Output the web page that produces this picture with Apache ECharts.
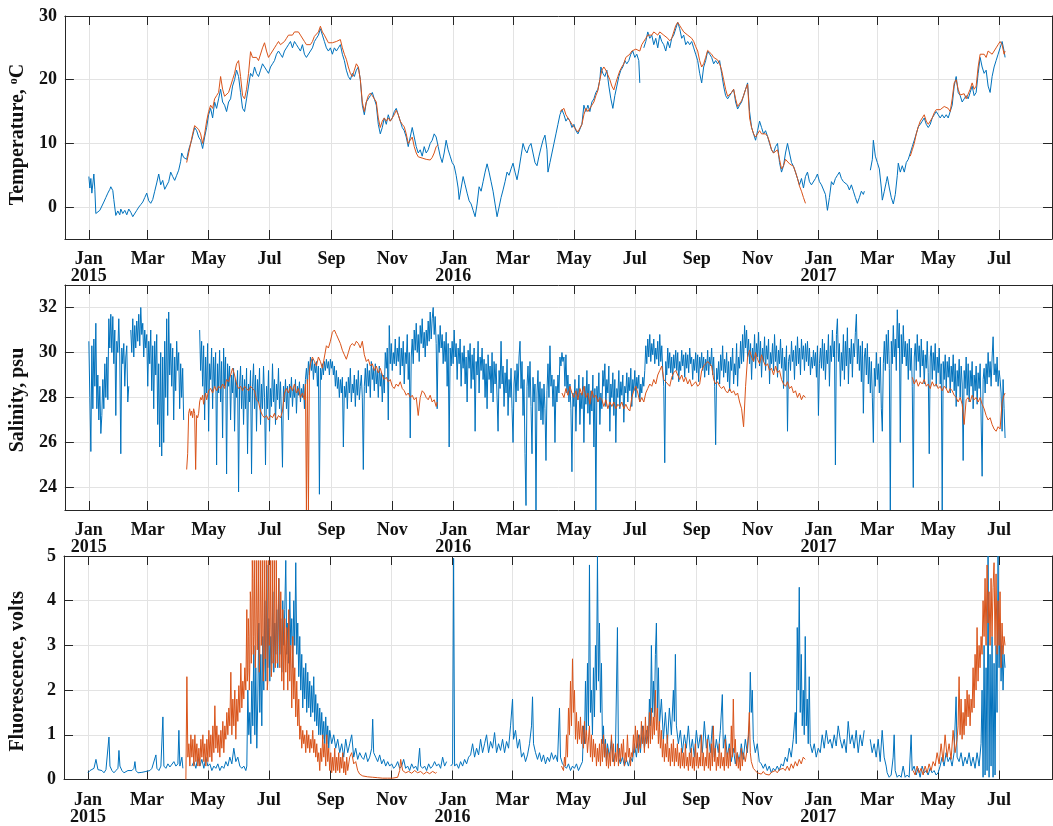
<!DOCTYPE html>
<html><head><meta charset="utf-8">
<script src="https://cdn.jsdelivr.net/npm/echarts@6/dist/echarts.min.js"></script>
<style>html,body{margin:0;padding:0;background:#fff}#c{width:1053px;height:826px}</style>
</head><body><div id="c"></div>
<script>
// day 0 = 1 Jan 2015
const monthTicks = [0,59,120,181,243,304,365,425,486,547,609,670,731,790,851,912];
const monthLabels = ['Jan\n2015','Mar','May','Jul','Sep','Nov','Jan\n2016','Mar','May','Jul','Sep','Nov','Jan\n2017','Mar','May','Jul'];
const tempTicks = [0,10,20,30];
const salTicks = [24,26,28,30,32];
const fluTicks = [0,1,2,3,4,5];

const tempBlue = [[0,4.8],[1,3.0],[2,4.5],[3,2.2],[5,5.2],[6,2.8],[7,-1.0],[9,-0.8],[11,-0.5],[13,-0.2],[15,0.8],[17,1.5],[19,2.2],[21,2.8],[22,3.2],[24,2.6],[25,1.2],[27,-1.3],[29,-0.6],[31,-1.2],[32,-0.3],[34,-1.0],[36,-0.5],[38,-1.2],[40,-0.3],[42,-0.8],[44,-1.5],[46,-1.2],[48,-0.5],[50,0.0],[52,0.4],[54,0.8],[56,1.5],[58,2.2],[60,1.0],[62,0.6],[64,1.2],[66,2.5],[68,3.8],[70,5.2],[72,3.5],[74,4.2],[76,2.8],[78,3.0],[80,4.0],[82,5.5],[84,4.8],[86,4.2],[88,5.0],[90,5.8],[92,7.2],[93,8.5],[95,7.8],
[98,7.5],[100,9],[103,10.5],[106,12.5],[108,12],[110,11],[112,10.5],[114,9.2],[116,11],[118,12.5],[120,14.5],[122,15.5],[124,14],[126,16.5],[128,15.5],[130,17],[132,18.5],[134,16.5],[136,16],[138,15],[140,16.5],[142,17],[144,19],[146,20],[148,21.5],[150,20.5],[152,18],[154,15.5],[156,15],[158,17],[160,19],[162,21],[164,20.5],[166,22],[168,21],[170,20.5],[172,21.5],[174,22.5],[176,22],[178,21.5],[180,21],[182,22],[184,22.5],[186,23],[188,24],[190,24.5],[192,24],[194,23.5],[196,24.5],[198,25],[200,25.5],[202,26],[204,25],[206,26],[208,25.5],[210,25],[212,24.5],[214,25.5],[216,24],[218,23.5],[220,23.5],[222,24.5],[224,25],[226,26],[228,26.5],[230,27],[232,28],[234,27],[236,26],[238,25],[240,24.5],[242,25],[244,24],[246,25],[248,24.5],[250,25],[252,25.5],[254,24],[256,23],[258,21.5],[260,20.5],[262,20],[264,21],[266,20.5],[268,21.5],[270,22],[272,20],[274,16],[276,14.5],[278,16.5],[280,17],[282,17.5],[284,18],[286,17],[288,16],[290,13],[292,11.5],[294,12.5],[296,14],[298,13],[300,14.5],[302,13.5],[304,14],[306,15],[308,15.5],[310,14.5],[312,13.5],[314,12.5],[316,12],[318,11],[320,9.5],[322,11],[324,12.5],[326,11],[328,9.5],[330,8.5],[332,9],[334,8],[336,9.5],[338,8.5],[340,9],[342,10],[344,10.5],[346,11.5],[348,11],[350,9.5],[352,8],[354,7],[356,8.5],[358,10.5],[360,9],[362,8],[364,7],[366,6.5],[368,5],[370,3],[371,1.2],[373,3],[375,4.8],[377,3.5],[379,2.2],[381,1],[383,0.5],[385,-0.5],[387,-1.5],[389,0.5],[391,3.2],[393,2.5],[395,4],[397,5.5],[399,6.8],[401,5.5],[403,4],[405,2.5],[407,0.5],[409,-1.5],[411,0],[413,1.5],[415,2.7],[417,4],[419,5.5],[421,5],[423,6],[425,6.9],[427,5.5],[429,4.3],[431,6],[433,8],[435,10],[437,9],[439,8.5],[441,9.5],[443,10],[445,8.5],[447,7],[449,6.5],[451,8],[453,9.3],[455,10.5],[457,11.3],[459,9],[460,5.5],[462,7],[464,8.5],[466,10],[468,11.5],[470,13],[472,14.5],[474,15.3],[476,14.5],[478,13.5],[480,14],[482,13.5],[484,12.5],[486,13],[488,12],[490,11.5],[492,11.2],[494,13],[496,16],[498,15],[500,16],[502,15],[504,16.5],[506,17],[508,18],[510,18.5],[512,20],[513,22],[515,21],[517,20.5],[519,21.5],[521,19],[523,17],[525,15.5],[527,17.5],[529,19],[531,20.5],[533,21.5],[535,22],[537,23],[539,22.5],[541,23],[543,24],[545,24.5],[547,23.5],[549,24],[551,23],[552,19.5],[553,null],
[556,25],[558,26],[560,27.5],[562,26.5],[564,27],[566,25.5],[568,26.5],[570,25],[572,27],[574,26],[576,25.5],[578,24.5],[580,26],[582,25],[584,26.5],[586,27],[588,28],[590,29],[592,28],[594,26.5],[596,27],[598,25.5],[600,26],[602,25.5],[604,26],[606,25],[608,24],[610,23],[612,21],[614,19.5],[616,22],[618,23],[620,24.5],[622,24],[624,23.5],[626,22.5],[628,23],[630,22.5],[632,23],[634,21],[636,19],[638,17.5],[640,17],[642,17.5],[644,18],[646,18.5],[648,16.5],[650,15.4],[652,16],[654,16.5],[656,17.5],[658,18.5],[660,19.5],[662,15],[664,12.5],[666,11.5],[668,10.5],[670,12],[672,13.5],[674,12.5],[676,11.5],[678,12],[680,11.1],[682,10],[684,9],[686,8.5],[688,9.5],[690,10],[692,7],[694,5.5],[696,6.5],[698,8.5],[700,10],[702,8.5],[704,7],[706,6.4],[708,5.5],[710,4.5],[712,3.5],[714,4.5],[716,3],[718,4.8],[720,5.5],[722,4],[724,3.5],[726,3.3],[728,4.5],[730,5.2],[732,4],[734,3.5],[736,3.3],[738,2],[740,-0.5],[742,1.5],[744,4],[746,3.5],[748,4.5],[750,5],[752,5.5],[754,4.5],[756,4],[758,4],[760,3.5],[762,2.7],[764,3.5],[766,2.5],[768,1.5],[770,0.6],[772,1.5],[774,2.5],[776,2],[777,2.5],[778,null],
[783,5.8],[785,7.5],[786,10.5],[788,8],[790,7],[792,6],[794,3],[795,1.1],[797,2.5],[799,4],[800,4.8],[802,3],[804,1.5],[806,0.5],[808,2],[810,5],[811,6.9],[813,5.5],[815,6.5],[817,5.5],[819,7],[821,7.5],[823,8.5],[825,9.5],[827,10.5],[829,11.5],[831,12.6],[833,13],[835,13.5],[837,14],[839,13],[841,12.5],[843,13],[845,14],[847,14.5],[849,15],[851,14.5],[853,14],[855,14.5],[857,14],[859,14.5],[861,14],[863,14],[865,16],[867,19],[869,20.5],[871,18],[873,17.5],[875,16.5],[877,17],[879,17.5],[881,17],[883,18],[885,19],[887,17.5],[889,18],[891,21],[893,23.5],[895,22],[897,21],[899,21.5],[901,19],[903,18],[905,20.5],[907,22],[909,23],[911,24],[913,25],[915,26],[917,24.5],[918,23.5]];

const tempOrange = [[98,7],[100,8.5],[102,10],[104,11.5],[106,12.8],[108,13],[110,12.2],[112,11.5],[114,10],[116,11.5],[118,13.5],[120,15],[122,16],[124,15.5],[126,17],[128,17.5],[130,18],[132,20.5],[134,18.5],[136,17.4],[138,17.5],[140,18],[142,18],[144,20],[146,21],[148,22.5],[150,23],[152,20.5],[154,17.5],[156,17],[158,18.5],[160,21],[162,24.4],[164,23.5],[166,23.3],[168,23.5],[170,23],[172,23.3],[174,25],[176,25.8],[178,24.5],[180,23.5],[182,24],[184,24.5],[186,25],[188,25.5],[190,26],[192,25.5],[194,25.3],[196,26],[198,26.5],[200,27],[202,27.3],[204,27],[206,27.5],[208,27.8],[210,27.5],[212,27],[214,26.8],[216,26],[218,25.5],[220,25.3],[222,25.5],[224,26],[226,26.8],[228,27],[230,27.5],[232,28.4],[234,27.5],[236,27],[238,26.8],[240,25.8],[242,25.5],[244,25.8],[246,25.5],[248,26],[250,26],[252,26.3],[254,25],[256,24],[258,23.2],[260,22],[262,21],[264,20.5],[266,21.5],[268,22.5],[270,22],[272,20],[274,16.5],[276,15],[278,16.5],[280,17.5],[282,17.9],[284,17.5],[286,17],[288,16.5],[290,14],[292,12.5],[294,13.5],[296,14],[298,13.5],[300,14],[302,13.5],[304,14],[306,14.5],[308,15.2],[310,14.5],[312,13.5],[314,13],[316,12.6],[318,11.5],[320,10],[322,10.5],[324,11],[326,9.5],[328,8.5],[330,7.9],[332,8],[334,7.7],[336,7.5],[338,7.5],[340,7.4],[342,7.4],[344,7.8],[346,8.5],[348,9.5],[350,9.8],[351,null],
[472,15],[474,15.3],[476,15.5],[478,14.5],[480,14],[482,13.5],[484,13],[486,12.6],[488,12.2],[490,11.8],[492,11.7],[494,13],[496,14.5],[498,15.5],[500,15],[502,15.3],[504,16],[506,16.5],[508,17.5],[510,18.3],[512,20],[514,21.5],[516,22],[518,21.5],[520,21.4],[522,20],[524,19],[526,18.4],[528,19.5],[530,20.5],[532,21.4],[534,22],[536,22.5],[538,23.5],[540,23.5],[542,24],[544,24.5],[546,24.5],[548,24.8],[550,25],[552,24.5],[554,25.5],[556,25.7],[558,26.5],[560,27],[562,27.1],[564,27],[566,27.5],[568,27.2],[570,27],[572,27.5],[574,27.2],[576,27],[578,26.8],[580,26.5],[582,26.1],[584,26.5],[586,27.5],[588,28.5],[590,29],[592,28.5],[594,28],[596,27.5],[598,27.2],[600,27],[602,26.8],[604,26.5],[606,26],[608,25.2],[610,24.5],[612,23],[614,22],[616,22.5],[618,23.5],[620,24.6],[622,24.5],[624,24],[626,23.5],[628,23.2],[630,23.1],[632,22.5],[634,21.5],[636,20],[638,18.5],[640,17.4],[642,17.5],[644,18],[646,18.5],[648,17],[650,15.8],[652,16],[654,16.7],[656,17.5],[658,18.5],[660,19.3],[662,14],[664,12.5],[666,11.5],[668,11],[670,11.5],[672,12],[674,11.5],[676,11.5],[678,11.5],[680,11.1],[682,10.2],[684,9],[686,8.5],[688,8.8],[690,9],[692,7.5],[694,6],[696,6.5],[698,7.5],[700,7.2],[702,6.8],[704,6.5],[706,6.4],[708,5.5],[710,4.5],[712,3.3],[714,2.5],[716,1.5],[718,0.6],[719,null],
[823,8],[825,9],[827,10],[829,11.5],[831,12.6],[833,13.5],[835,14],[837,14.5],[839,13.5],[841,13],[843,12.8],[845,14],[847,14.8],[849,15.3],[851,15.5],[853,15.3],[855,15.5],[857,15.8],[859,16],[861,15.5],[863,15],[865,17],[867,19.5],[869,20],[871,18.5],[873,17.6],[875,17.5],[877,17.8],[879,17],[881,17.3],[883,18.5],[885,19.5],[887,18.5],[889,19],[891,22],[893,24],[895,24.2],[897,24],[899,23.5],[901,24.5],[903,24.5],[905,24],[907,24.5],[909,25],[911,25.5],[913,26],[915,25.5],[917,24],[918,24.5]];

const salBlue = [[0,30.5],[1,28],[2,25.6],[3,30.3],[4,27.5],[5,30.6],[6,28.5],[7,31.3],[8,27.5],[9,29],[10,27],[11,28.5],[12,26.4],[13,27.2],[14,28.8],[15,27.5],[16,29.5],[17,28],[18,29.8],[19,27.9],[20,31.5],[21,30.2],[22,31.7],[23,30],[24,31.6],[25,29.5],[26,31],[27,27.2],[28,30.5],[29,30],[30,31.5],[31,29.8],[32,25.5],[33,30.2],[34,29.5],[35,30.4],[36,28.5],[37,29.8],[38,30.3],[39,27.8],[40,28.5],[41,null],
[42,31],[43,30],[44,31.5],[45,29.8],[46,31.2],[47,30.2],[48,31.4],[49,30.5],[50,31.7],[51,30.3],[52,32],[53,30.8],[54,31.3],[55,29.8],[56,31],[57,30.2],[58,30.8],[59,28.5],[60,30.5],[61,29.5],[62,31],[63,28.3],[64,30.3],[65,27.5],[66,30.5],[67,29],[68,30.8],[69,26.8],[70,29.5],[71,25.8],[72,30],[73,25.4],[74,29.8],[75,26],[76,30.5],[77,28],[78,31.5],[79,27.2],[80,31.8],[81,29],[82,30.4],[83,28.5],[84,30.2],[85,27],[86,29.8],[87,28.3],[88,30.5],[89,29.2],[90,30],[91,27.5],[92,29.5],[93,28],[94,29.3],[95,27],[96,null],
[111,31],[112,29.2],[113,30.5],[114,28.5],[115,30.3],[116,27],[117,29.8],[118,28.2],[119,30.4],[120,26.5],[121,29.5],[122,28.8],[123,30.2],[124,27.5],[125,29.8],[126,28.5],[127,30],[128,25],[129,29.5],[130,28.2],[131,30.1],[132,27.8],[133,29.6],[134,26.2],[135,30.2],[136,28.5],[137,29.8],[138,24.6],[139,29.5],[140,28.5],[141,29.4],[142,27],[143,29],[144,28.2],[145,29.3],[146,26.5],[147,28.8],[148,28],[149,29.2],[150,23.8],[151,28.5],[152,29.4],[153,27.5],[154,29],[155,26.8],[156,28.8],[157,27.5],[158,29.3],[159,25.5],[160,28.6],[161,27.8],[162,29.2],[163,24.6],[164,28.5],[165,29.5],[166,27.5],[167,29],[168,26.5],[169,28.8],[170,27.8],[171,29.3],[172,26.8],[173,28.6],[174,27.5],[175,29.4],[176,28],[177,25],[178,28.5],[179,27.5],[180,29.2],[181,26.5],[182,28.4],[183,27.6],[184,29.5],[185,27.8],[186,28.8],[187,26.8],[188,28.6],[189,27.9],[190,29.3],[191,27.5],[192,28.7],[193,27.2],[194,24.9],[195,28.5],[196,27.8],[197,28.8],[198,27.5],[199,28.5],[200,27],[201,28.6],[202,28],[203,28.9],[204,27.6],[205,28.4],[206,28],[207,28.8],[208,27.3],[209,28.5],[210,28.1],[211,28.7],[212,27.8],[213,28.4],[214,28],[215,28.6],[216,27.5],[217,28.8],[218,29.3],[219,28.6],[220,29.6],[221,29],[222,29.8],[223,29.2],[224,29.7],[225,28.8],[226,29.5],[227,29.1],[228,29.6],[229,28.5],[230,29.4],[231,23.7],[232,29.3],[233,28.8],[234,29.5],[235,29],[236,29.6],[237,29.2],[238,29.7],[239,29.3],[240,29.6],[241,29],[242,29.7],[243,29.3],[244,29.6],[245,29],[246,29.4],[247,28.5],[248,29.2],[249,28.4],[250,28.9],[251,28],[252,28.8],[253,28.2],[254,28.9],[255,25.8],[256,28.5],[257,28],[258,28.7],[259,27.5],[260,28.9],[261,28.2],[262,29.3],[263,27.8],[264,28.6],[265,28.2],[266,29],[267,27.6],[268,28.8],[269,28.1],[270,29.2],[271,27.9],[272,28.5],
[273,29],[274,28],[275,24.8],[276,28.5],[277,29.3],[278,28.2],[279,29.5],[280,28.5],[281,29.2],[282,28],[283,29.6],[284,28.8],[285,29.3],[286,28.3],[287,29.5],[288,28.6],[289,29.2],[290,28],[291,29.4],[292,28.5],[293,29.1],[294,27.8],[295,29],[296,28.2],[297,30],[298,29.3],[299,30.2],[300,27],[301,31.2],[302,29.5],[303,30.4],[304,29.2],[305,30],[306,29.5],[307,30.6],[308,29.4],[309,30.2],[310,29.6],[311,30.7],[312,29],[313,30.2],[314,29.4],[315,30.5],[316,28.6],[317,30],[318,29.5],[319,30.8],[320,28.8],[321,30],[322,26.2],[323,29.8],[324,30.6],[325,29.5],[326,31],[327,30.1],[328,31.3],[329,30],[330,30.8],[331,29.6],[332,31.2],[333,30.4],[334,31.5],[335,30.2],[336,30.9],[337,29.8],[338,31],[339,30.3],[340,31.4],[341,30.5],[342,31.8],[343,30.6],[344,31.5],[345,32],[346,30.8],[347,31.6],[348,30.4],[349,27.5],[350,30.8],[351,30],[352,31.2],[353,30.2],[354,30.8],[355,29.5],[356,30.5],[357,29.6],[358,30.9],[359,28.5],[360,30.4],[361,25.8],[362,30.2],
[363,29.4],[364,30.5],[365,29.5],[366,31],[367,29.8],[368,30.4],[369,28.8],[370,30.2],[371,29.5],[372,30.6],[373,28.5],[374,30],[375,29.3],[376,30.3],[377,28.6],[378,29.8],[379,27.8],[380,30.1],[381,29.3],[382,30.4],[383,28.4],[384,29.9],[385,28.8],[386,30.2],[387,26.5],[388,29.6],[389,29],[390,30.5],[391,28.2],[392,29.8],[393,29.2],[394,30.2],[395,28.8],[396,29.7],[397,28],[398,29.5],[399,27.5],[400,29.9],[401,28.8],[402,29.4],[403,28.2],[404,30],[405,27.8],[406,29.6],[407,28.6],[408,29.5],[409,28],[410,26.5],[411,29.2],[412,28.4],[413,30.5],[414,28.6],[415,29.4],[416,27.6],[417,29.1],[418,28.2],[419,29.7],[420,27.2],[421,28.8],[422,28],[423,29.3],[424,27.5],[425,26],[426,28.6],[427,29.2],[428,27.8],[429,29.5],[430,28.3],[431,29.8],[432,30.5],[433,28.4],[434,29.6],[435,27.2],[436,28.8],[437,25.5],[438,23.2],[439,28.5],[440,29.4],[441,28],[442,29.6],[443,27.6],[444,25.5],[445,28.9],[446,27.8],[447,28.6],[448,23],[449,28.2],[450,29.2],[451,27.4],[452,28.7],[453,27],[454,28.4],[455,26.8],[456,28.6],[457,27.5],[458,25.2],[459,28.3],[460,29.5],[461,28],[462,30.3],[463,28.5],[464,29],[465,27.6],[466,28.8],[467,26],[468,28.5],[469,27.8],[470,29],[471,28.2],[472,29.8],[473,29.4],[474,30],[475,29.6],
[476,29.8],[477,28.5],[478,29.9],[479,28.2],[480,29],[481,27.8],[482,28.6],[483,27.5],[484,24.7],[485,28.2],[486,27.6],[487,28.8],[488,26.5],[489,28.4],[490,27.9],[491,29],[492,26.8],[493,28.2],[494,27.5],[495,28.9],[496,26],[497,28.5],[498,27.7],[499,29.2],[500,27.3],[501,28.6],[502,26.8],[503,28.3],[504,27.4],[505,29],[506,25.8],[507,28.4],[508,23],[509,28.5],[510,27.8],[511,29.1],[512,26.8],[513,28.2],[514,27.5],[515,29.2],[516,28.5],[517,29.5],[518,27.6],[519,28.8],[520,28.2],[521,29.4],[522,26.5],[523,28.6],[524,28],[525,29.1],[526,27.2],[527,28.8],[528,26],[529,28.4],[530,28],[531,29.2],[532,27.5],[533,28.7],[534,28.1],[535,29],[536,26.9],[537,28.5],[538,28.2],[539,29.1],[540,27.8],[541,28.9],[542,28.3],[543,29.3],[544,27.6],[545,28.8],
[546,28.3],[547,29.2],[548,28],[549,28.9],[550,28.4],[551,29],[552,27.8],[553,28.6],[554,28.2],[555,28.9],[556,28.5],[557,29.2],[558,30.3],[559,29.5],[560,30.6],[561,29.8],[562,30.8],[563,29.6],[564,30.4],[565,29.9],[566,30.6],[567,29.5],[568,30.2],[569,29.7],[570,30.5],[571,29.4],[572,30.8],[573,29.6],[574,30.3],[575,29.2],[576,28.5],[577,25.1],[578,29.6],[579,29],[580,30.2],[581,29.3],[582,30],[583,29.1],[584,29.8],[585,28.8],[586,29.9],[587,29.3],[588,30.1],[589,29.2],[590,30],[591,28.7],[592,29.6],[593,29.2],[594,30.1],[595,29.4],[596,29.9],[597,28.9],[598,30],[599,29.3],[600,29.9],[601,29.1],[602,30.2],[603,29.5],[604,29.8],[605,28.8],[606,29.7],[607,29.2],[608,30],[609,29.1],[610,29.9],[611,28.7],[612,29.8],[613,29.3],[614,30],[615,29.2],[616,29.8],[617,28.9],[618,29.7],[619,29.2],[620,30.1],[621,29],[622,29.8],
[623,29.4],[624,30.2],[625,29],[626,29.8],[627,28.5],[628,25.9],[629,29.3],[630,28.8],[631,29.6],[632,28.6],[633,29.9],[634,29.2],[635,30.3],[636,28.9],[637,29.7],[638,29.1],[639,30],[640,28.7],[641,29.6],[642,28.3],[643,29.8],[644,29.2],[645,30.2],[646,28.6],[647,29.5],[648,29],[649,30.4],[650,28.5],[651,29.8],[652,29.3],[653,30.5],[654,29.5],[655,30.8],[656,29.6],[657,31.2],[658,30.2],[659,31],[660,29.8],[661,30.6],[662,29.5],[663,30.4],[664,28.8],[665,30.2],[666,29.6],[667,30.8],[668,29.3],[669,30.4],[670,29.8],[671,30.9],[672,29.4],[673,30.5],[674,28.9],[675,30.2],[676,29.6],[677,30.7],[678,29.2],[679,30.3],[680,29.7],[681,30.6],[682,28.6],[683,30],[684,29.5],[685,30.4],[686,29.2],[687,30.8],[688,29.6],[689,30.3],[690,28.9],[691,30.1],[692,29.5],[693,30.6],[694,29.3],[695,30.2],[696,28.4],[697,29.8],[698,29.2],[699,30.3],[700,26.5],[701,29.6],[702,29.9],[703,29.2],[704,30.5],[705,29.6],[706,30.1],[707,28.8],[708,30.3],[709,29.4],[710,30.7],[711,29.5],[712,30.2],[713,29],[714,30.6],[715,29.7],[716,30.3],[717,29.2],[718,30.4],[719,29.6],[720,30.5],[721,29.4],[722,30.2],[723,29],[724,29.8],[725,29.3],[726,30.1],[727,29.4],[728,30],[729,28.9],[730,30.3],
[731,27.2],[732,29.5],[733,30.2],[734,29.3],[735,30.6],[736,29.2],[737,30.4],[738,28.8],[739,30.1],[740,29.5],[741,30.8],[742,28.5],[743,30.3],[744,29.6],[745,31],[746,29.8],[747,30.5],[748,25],[749,30.8],[750,31.5],[751,29.6],[752,30.4],[753,28.5],[754,30],[755,29.2],[756,30.8],[757,28.8],[758,30.5],[759,29.4],[760,31.1],[761,28.6],[762,30.2],[763,29.5],[764,30.6],[765,28.9],[766,30.4],[767,29.8],[768,30.9],[769,31.7],[770,29.5],[771,30.6],[772,29.2],[773,30.3],[774,28.7],[775,30.5],[776,27.3],[777,29.8],[778,30.2],[779,29],[780,30.4],[781,28.6],[782,29.8],[783,28.2],[784,29.6],[785,28],[786,26],[787,29.3],[788,28.5],[789,30],[790,28.8],[791,29.5],[792,28.2],[793,29.8],[794,27.5],[795,26.5],[796,29.5],[797,30.5],[798,29.2],[799,30.8],[800,29.5],
[801,31],[802,29.3],[803,23],[804,30.5],[805,29.5],[806,31.2],[807,29.8],[808,30.6],[809,29.2],[810,31.9],[811,30.2],[812,31.3],[813,26],[814,30.8],[815,29.5],[816,31.2],[817,29.8],[818,30.5],[819,29.4],[820,30.4],[821,28.8],[822,30.6],[823,29.2],[824,30.2],[825,28.5],[826,24],[827,29.8],[828,30.4],[829,29.2],[830,30.8],[831,29.6],[832,30.3],[833,28.9],[834,30.6],[835,29.4],[836,30.1],[837,28.6],[838,29.9],[839,29.3],[840,30.5],[841,29.1],[842,25.5],[843,29.8],[844,30.3],[845,28.8],[846,30],[847,29.2],[848,30.4],[849,28.5],[850,29.8],[851,29.1],[852,30.2],[853,28.6],[854,29.5],[855,23],[856,29.6],[857,28.8],[858,29.9],[859,28.4],[860,29.6],
[861,28.9],[862,29.8],[863,28.2],[864,29.4],[865,28.7],[866,29.9],[867,28.3],[868,29.5],[869,27.6],[870,29.2],[871,28.5],[872,29.7],[873,28],[874,29.4],[875,28.6],[876,25.2],[877,29.2],[878,28.4],[879,29.8],[880,28.1],[881,29.5],[882,27.8],[883,29.2],[884,28.5],[885,29.6],[886,27.5],[887,29],[888,28.3],[889,29.4],[890,27.7],[891,29.1],[892,28.4],[893,29.5],[894,27],[895,24.5],[896,28.8],[897,29.3],[898,28.2],[899,29.5],[900,28.6],[901,30],[902,28.9],[903,29.6],[904,28.5],[905,29.8],[906,30.7],[907,29],[908,29.5],[909,28.7],[910,29.8],[911,28.5],[912,29.2],[913,28.8],[914,28.2],[915,26.5],[916,28.8],[917,27.5],[918,26.2]];

const salOrange = [[98,24.8],[99,25.5],[100,27.3],[101,27.5],[102,27.2],[103,27.4],[104,27.1],[105,27.5],[106,27.3],[107,24.8],[108,27.2],[109,27.1],[110,27.3],[111,27.8],[112,28],[113,27.9],[114,28.1],[115,27.7],[116,28],[117,28.2],[118,27.9],[120,28.3],[122,28.4],[124,28.2],[126,28.5],[128,28.3],[130,28.5],[132,28.4],[134,28.6],[136,28.4],[138,28.8],[140,28.7],[142,29],[144,29.3],[146,29],[148,28.6],[150,28.4],[152,28.5],[154,28.3],[156,28.5],[158,28.4],[160,28.3],[162,28.5],[164,28.4],[166,28.3],[168,27.9],[170,27.8],[172,27.4],[174,27.2],[176,27.1],[178,27.2],[180,27],[182,27.2],[184,27.1],[186,27.3],[188,27],[190,27.2],[192,27.1],[194,27.4],[196,28.2],[198,28.4],[200,28.2],[202,28.5],[204,28.3],[206,28.6],[208,28.2],[210,28.4],[212,28],[214,28.2],[216,27.9],[217,28.6],[218,23],[219,28.8],[220,23],[221,29.2],[222,29.5],[224,29.8],[226,29.6],[228,29.4],[230,29.8],[232,29.6],[234,29.3],[236,29.8],[238,30.3],[240,30.2],[242,30.5],[244,30.9],[246,31],[248,30.8],[250,30.6],[252,30.4],[254,30.1],[256,29.9],[258,29.7],[260,30],[262,30.3],[264,30.4],[266,30.3],[268,30.5],[270,30.4],[272,30.2],[274,30.5],[276,29.9],[278,29.6],[280,29.7],[282,29.4],[284,29.5],[286,29.2],[288,29.4],[290,29.1],[292,29.3],[294,29],[296,28.8],[298,28.9],[300,28.7],[302,28.8],[304,28.5],[306,28.4],[308,28.6],[310,28.5],[312,28.7],[314,28.4],[316,28.3],[318,28.1],[320,28.2],[322,28],[324,28.1],[326,27.9],[328,28],[330,27.2],[332,28],[334,28.3],[336,28.2],[338,28],[340,27.9],[342,28.1],[344,27.8],[346,27.9],[348,27.6],[349,27.8],[350,null],
[474,28.2],[476,28],[478,28.4],[480,28.1],[482,28.5],[484,28.2],[486,28],[488,28.3],[490,27.9],[492,28.4],[494,28.1],[496,28.5],[498,28],[500,28.2],[502,27.7],[504,28.3],[506,28],[508,28.1],[510,27.8],[512,28],[514,27.9],[516,27.6],[518,27.9],[520,27.5],[522,27.8],[524,27.6],[526,27.8],[528,27.5],[530,27.7],[532,27.6],[534,27.8],[536,27.5],[538,27.7],[540,27.5],[542,27.4],[544,28],[546,28.3],[548,28.5],[550,28.2],[552,27.8],[554,28],[556,27.8],[558,28.2],[560,28.4],[562,28.6],[564,28.5],[566,28.8],[568,28.6],[570,29],[572,29.2],[574,29.4],[576,28.8],[578,28.7],[580,28.6],[582,28.5],[584,28.9],[586,29.1],[588,29.2],[590,29],[592,28.8],[594,29],[596,28.7],[598,28.9],[600,28.6],[602,28.8],[604,28.5],[606,28.6],[608,28.7],[610,28.5],[612,28.6],[614,29.2],[616,29.4],[618,29.5],[620,29.6],[622,29.5],[624,29.4],[626,28.8],[628,28.6],[630,28.7],[632,28.5],[634,28.4],[636,28.5],[638,28.3],[640,28.2],[642,28.4],[644,28.2],[646,28.3],[648,28.1],[650,28.2],[652,27.8],[654,27.5],[656,26.7],[658,28.5],[660,29.8],[662,30.1],[664,29.8],[666,29.6],[668,30],[670,29.7],[672,29.5],[674,29.9],[676,29.6],[678,29.4],[680,29.5],[682,29.2],[684,29.3],[686,29],[688,29.4],[690,29.1],[692,29.2],[694,28.8],[696,28.6],[698,28.5],[700,28.7],[702,28.4],[704,28.5],[706,28.2],[708,28.3],[710,28],[712,28.2],[714,27.9],[716,28.1],[718,28],[719,null],
[825,28.9],[827,28.6],[829,28.8],[831,28.5],[833,28.7],[835,28.6],[837,28.8],[839,28.5],[841,28.6],[843,28.4],[845,28.7],[847,28.5],[849,28.6],[851,28.4],[853,28.5],[855,28.3],[857,28.5],[859,28.4],[861,28.2],[863,28.4],[865,28.3],[867,28.1],[869,28],[871,27.8],[873,28],[875,27.7],[877,26.8],[879,27.9],[881,28],[883,27.8],[885,28.1],[887,27.9],[889,28],[891,27.8],[893,28],[895,27.7],[897,27.5],[899,27.2],[901,27],[903,27.1],[905,26.8],[907,26.6],[909,26.5],[911,26.7],[913,26.6],[915,27.8],[917,28.1],[918,28.2]];

const fluBlue = [[0,0.15],[2,0.2],[4,0.18],[6,0.25],[8,0.45],[10,0.22],[12,0.18],[14,0.2],[16,0.15],[18,0.22],[20,0.2],[21,0.95],[22,0.3],[24,0.2],[26,0.15],[28,0.2],[30,0.25],[31,0.65],[32,0.3],[34,0.2],[36,0.15],[38,0.18],[40,0.2],[42,0.16],[44,0.2],[46,0.25],[47,0.4],[48,0.2],[50,0.15],[52,0.18],[54,0.16],[56,0.2],[58,0.18],[60,0.22],[62,0.2],[64,0.25],[66,0.22],[68,0.55],[69,0.25],[71,0.2],[73,0.3],[75,1.4],[76,0.3],[78,0.25],[80,0.35],[82,0.28],[84,0.3],[86,0.4],[88,0.3],[90,0.35],[91,1.1],[92,0.3],[94,0.5],[95,0.25],[96,null],
[104,0.3],[106,0.4],[108,0.25],[110,0.5],[112,0.3],[114,0.45],[116,0.25],[118,0.5],[120,0.3],[122,0.35],[124,0.2],[126,0.3],[128,0.25],[130,0.35],[132,0.2],[134,0.3],[136,0.25],[138,0.4],[140,0.3],[142,0.5],[144,0.35],[146,0.7],[148,0.4],[150,0.5],[152,0.3],[154,0.25],[156,0.3],[158,0.2],[159,0.3],
[160,2.0],[161,1.0],[162,1.5],[163,0.8],[164,2.2],[165,1.2],[166,3.0],[167,1.0],[168,2.5],[169,0.7],[170,1.8],[171,3.5],[172,1.5],[173,2.8],[174,1.2],[175,3.2],[176,2.0],[177,4.0],[178,2.2],[179,4.8],[180,2.5],[181,3.6],[182,2.2],[183,3.2],[184,2.6],[185,4.2],[186,2.4],[187,3.5],[188,2.8],[189,3.8],[190,2.5],[191,4.5],[192,2.8],[193,3.6],[194,2.4],[195,4.0],[196,3.0],[197,3.8],[198,4.9],[199,2.8],[200,3.5],[201,2.6],[202,4.2],[203,3.0],[204,3.6],[205,2.5],[206,4.0],[207,3.0],[208,4.85],[209,2.8],[210,3.5],[211,2.3],[212,3.2],[213,2.0],[214,2.8],[215,1.6],[216,2.5],[217,1.8],[218,2.6],[219,1.5],[220,2.4],[221,1.6],[222,2.2],[223,1.4],[224,2.1],[225,1.5],[226,2.3],[227,1.3],[228,1.9],[229,1.2],[230,1.7],[231,1.0],[232,1.6],[233,1.0],[234,1.5],[235,0.9],[236,1.3],[237,0.8],[238,1.4],[239,0.8],[240,1.2],[241,0.7],[242,1.1],[244,0.8],[246,1.0],[248,0.7],[250,0.9],[252,0.6],[254,0.8],[256,0.5],[258,0.9],[260,0.6],[262,0.8],[264,1.0],[266,0.5],[268,0.7],[270,0.45],[272,0.6],
[274,0.5],[276,0.45],[278,0.6],[280,0.4],[282,0.5],[284,0.7],[285,1.35],[286,0.6],[288,0.5],[290,0.4],[292,0.55],[294,0.35],[296,0.45],[298,0.3],[300,0.4],[302,0.3],[304,0.35],[306,0.25],[308,0.3],[310,0.4],[312,0.25],[314,0.3],[316,0.45],[318,0.25],[320,0.3],[322,0.2],[324,0.35],[326,0.25],[328,0.3],[330,0.2],[332,0.7],[333,0.3],[335,0.25],[337,0.3],[339,0.2],[341,0.35],[343,0.25],[345,0.3],[347,0.4],[349,0.3],[351,0.35],[353,0.25],[355,0.5],[357,0.3],[359,0.4],[361,null],[363,0.3],[365,0.35],[366,4.95],[367,0.3],[369,0.35],[371,0.25],[373,0.4],[375,0.3],[377,0.45],[379,0.35],[381,0.5],[383,0.55],[385,0.8],[387,0.5],[389,0.7],[391,0.55],[393,0.9],[395,0.6],[397,0.8],[399,1.0],[401,0.6],[403,0.85],[405,0.7],[407,1.05],[409,0.6],[411,0.8],[413,0.65],[415,0.9],[417,0.6],[419,0.85],[421,0.7],[423,1.2],[425,1.8],[426,0.9],[428,1.1],[430,0.7],[432,0.9],[434,0.5],[436,0.6],[438,0.4],[440,0.55],[442,0.8],[444,1.2],[445,1.85],[446,0.8],[448,0.6],[450,0.45],[452,0.6],[454,0.4],[456,0.55],[458,0.35],[460,0.5],[462,0.4],[464,0.6],[466,0.45],[468,0.55],[470,0.4],[472,1.6],[473,0.5],[475,0.35],
[477,0.3],[479,0.25],[481,0.35],[483,0.2],[485,0.3],[487,0.25],[489,0.35],[491,0.2],[493,0.3],[495,0.4],[496,1.2],[497,0.8],[498,2.2],[499,1.0],[500,2.6],[501,1.2],[502,4.8],[503,1.5],[504,2.0],[505,1.0],[506,2.5],[507,1.4],[508,3.0],[509,2.0],[510,5.0],[511,2.2],[512,3.5],[513,1.5],[514,2.6],[515,0.8],[516,1.2],[517,0.5],[518,0.9],[519,0.4],[520,0.8],[522,0.5],[524,0.9],[526,0.4],[528,0.6],[530,3.4],[531,0.5],[533,0.35],[535,0.5],[537,0.3],[539,0.45],[541,0.3],[543,0.5],[545,0.4],[547,0.8],[549,0.5],[551,1.0],[553,0.6],[555,1.2],[557,0.7],[559,1.1],[561,0.8],[562,1.8],[563,1.2],[564,3.0],[565,1.5],[566,2.2],[567,1.4],[568,2.8],[569,3.5],[570,1.6],[571,2.5],[572,1.2],[574,1.8],[576,0.9],[578,1.5],[580,0.8],[582,1.6],[584,1.0],[586,2.0],[587,1.3],[588,2.8],[589,1.2],[591,0.8],[593,1.1],[595,0.6],[597,1.0],[599,0.7],[601,1.2],[603,0.6],[605,0.9],[607,0.5],[609,1.1],[611,0.7],[613,1.0],[615,0.6],[617,1.3],[619,0.7],[621,1.0],
[623,0.6],[625,1.2],[627,0.5],[629,0.9],[631,0.6],[633,1.1],[635,1.9],[636,0.7],[638,1.0],[640,0.5],[642,0.8],[644,0.4],[646,0.7],[648,0.35],[650,0.6],[652,0.4],[654,0.8],[656,0.45],[658,0.9],[660,0.6],[662,1.2],[663,2.4],[664,1.5],[665,2.0],[666,0.9],[668,0.6],[670,0.8],[672,0.4],[674,0.35],[676,0.25],[678,0.35],[680,0.2],[682,0.3],[684,0.15],[686,0.25],[688,0.2],[690,0.3],[692,0.2],[694,0.35],[696,0.3],[698,0.5],[700,0.4],[702,0.7],[704,0.5],[706,0.9],[708,1.5],[709,0.8],[710,3.4],[711,2.0],[712,4.3],[713,1.5],[714,2.8],[715,1.2],[716,2.0],[717,1.0],[718,3.2],[719,1.2],[720,1.8],[721,0.8],[722,2.3],[723,0.8],[725,0.6],[727,0.8],[729,0.5],[731,0.7],[733,0.6],[735,1.0],[737,0.7],[739,1.1],[741,0.8],[743,0.9],[745,0.7],[747,1.0],[749,0.75],[751,1.2],[753,0.9],[755,0.7],[757,0.9],[759,0.6],[761,1.3],[763,0.8],[765,1.0],[767,0.7],[769,1.1],[771,0.6],[773,1.0],[775,0.75],[777,1.1],[778,null],
[783,0.9],[785,0.6],[787,0.8],[789,0.5],[791,0.9],[793,0.4],[795,1.1],[797,0.5],[799,0.3],[800,0.15],[802,0.05],[804,0.1],[806,0.5],[807,1.0],[808,0.2],[810,0.05],[812,0.1],[814,0.05],[816,0.3],[818,0.05],[820,0.1],[822,0.05],[824,1.0],[825,0.2],[827,0.3],[829,0.1],[831,0.25],[833,0.05],[835,0.3],[837,0.15],[839,0.2],[841,0.1],[843,0.25],[845,0.15],[847,0.2],[849,0.1],[851,0.15],[853,0.3],[855,0.5],[857,0.3],[859,0.6],[861,0.4],[863,0.5],[865,0.3],[867,0.6],[869,1.85],[870,0.5],[872,0.4],[874,0.6],[876,0.3],[878,0.5],[880,0.35],[882,0.6],[884,0.3],[886,0.5],[888,0.25],[890,0.6],[892,0.3],[894,0.8],[895,2.0],[896,0.05],[897,3.0],[898,0.1],[899,2.5],[900,0.2],[901,5.0],[902,0.05],[903,2.8],[904,0.3],[905,3.2],[906,0.05],[907,2.6],[908,0.1],[909,3.0],[910,1.5],[911,5.0],[912,2.5],[913,3.5],[914,2.2],[915,3.0],[916,2.0],[917,2.8],[918,2.5]];

const fluOrange = [[98,0],[99,2.3],[100,0.5],[101,0.8],[102,0.3],[103,1.0],[104,0.5],[105,0.9],[106,0.3],[107,1.0],[108,0.4],[109,0.8],[110,0.3],[111,0.7],[112,0.3],[113,0.9],[114,0.5],[115,1.0],[116,0.4],[117,0.8],[118,0.3],[119,0.9],[120,0.4],[121,1.1],[122,0.5],[123,1.0],[124,0.4],[125,1.2],[126,0.6],[127,1.65],[128,0.7],[129,1.2],[130,0.6],[131,1.0],[132,0.5],[133,1.1],[134,0.7],[135,1.3],[136,0.6],[137,1.2],[138,0.9],[139,1.5],[140,1.0],[141,1.6],[142,1.2],[143,2.4],[144,1.0],[145,1.8],[146,1.2],[147,2.0],[148,0.9],[149,1.8],[150,1.3],[151,2.1],[152,1.5],[153,2.6],[154,1.6],[155,2.2],[156,1.8],[157,2.5],[158,2.0],
[159,3.8],[159.5,2.2],[160,2.4],[160.5,3.6],[161,3.2],[161.5,2.0],[162,2.5],[162.5,4.2],[163,4.0],[163.5,2.6],[164,3.0],[164.5,4.9],[165,4.5],[165.5,2.8],[166,3.2],[166.5,4.9],[167,4.9],[167.5,2.5],[168,3.0],[168.5,4.9],[169,4.9],[169.5,2.9],[170,3.5],[170.5,4.9],[171,4.9],[171.5,2.4],[172,2.8],[172.5,4.9],[173,4.9],[173.5,3.0],[174,3.3],[174.5,4.9],[175,4.9],[175.5,2.2],[176,2.6],[176.5,4.9],[177,4.9],[177.5,2.7],[178,3.0],[178.5,4.9],[179,4.9],[179.5,2.0],[180,2.2],[180.5,4.9],[181,4.9],[181.5,3.0],[182,3.4],[182.5,4.9],[183,4.9],[183.5,2.3],[184,2.5],[184.5,4.9],[185,4.9],[185.5,2.6],[186,3.0],[186.5,4.9],[187,4.9],[187.5,2.5],[188,2.8],[188.5,4.9],[189,4.9],[189.5,2.6],[190,3.2],
[191,4.5],[192,2.5],[193,4.2],[194,2.2],[195,3.8],[196,2.0],[197,3.6],[198,2.4],[199,3.4],[200,2.0],[201,3.8],[202,2.2],[203,3.0],[204,1.6],[205,3.2],[206,1.8],[207,2.5],[208,1.4],[209,2.2],[210,1.2],[211,1.8],[212,0.9],[213,1.2],[214,0.7],[215,1.1],[216,0.8],[217,1.0],[218,0.6],[219,1.1],[220,0.7],[221,1.0],[222,0.6],[223,0.9],[224,0.7],[225,1.1],[226,0.6],[227,0.9],[228,0.5],[229,0.8],[230,0.4],[231,0.6],[232,0.2],[233,0.7],[234,0.4],[235,1.0],[236,0.5],[237,0.8],[238,0.3],[239,1.0],[240,0.4],[241,0.7],[242,0.2],[243,0.6],[244,0.15],[245,0.5],[246,0.2],[247,0.7],[248,0.15],[249,0.5],[250,0.2],[251,0.6],[252,0.15],[253,0.5],[254,0.25],[255,0.6],[256,0.15],[257,0.4],[258,0.1],[259,0.5],[260,0.2],[262,0.5],[264,0.6],[266,0.35],[268,0.4],[270,0.2],[272,0.12],[275,0.08],[280,0.06],[285,0.05],[290,0.04],[295,0.03],[300,0.03],[305,0.03],[310,0.05],[312,0.2],[313,0.45],[315,0.2],[318,0.15],[321,0.18],[324,0.14],[327,0.2],[330,0.15],[333,0.18],[336,0.12],[339,0.17],[342,0.13],[345,0.18],[348,0.14],[349,0.16],[350,null],
[474,0.3],[476,0.2],[477,0.5],[478,0.3],[479,1.0],[480,0.5],[481,1.6],[482,1.0],[483,2.2],[484,1.2],[485,2.7],[486,1.5],[487,2.0],[488,0.9],[489,1.5],[490,0.8],[491,1.3],[492,0.9],[493,1.4],[494,0.8],[495,1.2],[496,0.7],[497,1.3],[498,0.8],[499,1.1],[500,0.6],[502,1.2],[503,0.5],[504,1.0],[505,0.4],[506,0.9],[507,0.5],[508,0.8],[509,0.3],[510,0.7],[511,0.4],[512,0.8],[513,0.3],[514,0.9],[515,0.4],[516,1.0],[517,0.5],[518,0.8],[519,0.3],[520,0.7],[521,0.25],[522,0.6],[523,0.3],[524,1.0],[525,0.4],[526,0.8],[527,0.3],[528,0.6],[529,0.4],[530,0.8],[531,0.3],[532,0.7],[533,0.4],[534,0.8],[535,0.5],[536,0.9],[537,0.3],[538,0.6],[539,0.4],[540,1.0],[541,0.5],[542,0.7],[543,0.3],[544,0.6],[545,0.5],[546,1.0],[547,0.6],[548,1.2],[549,0.7],[550,1.1],[551,0.6],[552,1.0],[553,0.7],[554,1.3],[555,0.8],[556,1.2],[557,0.6],[558,1.4],[559,0.8],[560,1.2],[561,0.7],[562,1.5],[563,0.8],[564,1.6],[565,0.9],[566,1.4],[567,1.0],[568,2.0],[569,1.1],[570,1.6],[571,0.8],[572,1.3],[573,0.7],[574,1.1],[575,0.5],[576,0.9],[577,0.4],[578,0.8],[579,0.5],[580,1.0],[581,0.4],[582,0.7],[583,0.3],[584,0.8],[585,0.4],[586,0.9],[587,0.3],[588,0.7],[589,0.4],[590,0.8],[591,0.3],[592,0.6],[593,0.25],[594,0.7],[595,0.3],[596,0.6],[597,0.25],[598,0.8],[599,0.3],[600,0.5],[601,0.2],[602,0.6],[603,0.3],[604,0.7],[605,0.25],[606,0.5],[607,0.2],[608,0.8],[609,0.3],[610,0.6],[611,0.25],[612,0.5],[613,0.3],[614,1.0],[615,0.3],[616,0.6],[617,0.2],[618,0.5],[619,0.3],[620,0.9],[621,0.25],[622,0.6],[623,0.2],[624,0.8],[625,0.3],[626,1.2],[627,0.4],[628,0.7],[629,0.2],[630,0.5],[631,0.3],[632,0.8],[633,0.25],[634,0.6],[635,0.3],[636,0.5],[637,0.2],[638,0.9],[639,0.3],[640,0.6],[641,0.25],[642,0.7],[643,0.3],[644,1.2],[645,0.5],[646,1.8],[647,0.6],[648,0.9],[649,0.3],[650,0.6],[651,0.25],[652,0.5],[653,0.2],[654,0.7],[655,0.3],[656,0.6],[658,0.4],[660,0.7],[661,1.0],[662,1.5],[663,0.6],[664,0.4],[666,0.25],[668,0.2],[670,0.15],[672,0.18],[674,0.12],[676,0.18],[678,0.12],[680,0.15],[682,0.1],[684,0.16],[686,0.12],[688,0.2],[690,0.15],[692,0.22],[694,0.18],[696,0.25],[698,0.2],[700,0.3],[702,0.2],[704,0.35],[706,0.25],[708,0.4],[710,0.3],[712,0.45],[714,0.35],[716,0.5],[718,0.45],[719,null],
[826,0.2],[828,0.1],[830,0.3],[832,0.15],[834,0.25],[836,0.1],[838,0.3],[840,0.15],[842,0.35],[844,0.2],[846,0.4],[848,0.3],[850,0.6],[852,0.35],[854,0.8],[856,0.4],[858,1.0],[860,0.5],[862,0.8],[864,0.45],[866,1.1],[868,0.6],[870,0.9],[871,1.2],[872,2.3],[873,1.0],[874,1.8],[875,0.9],[876,1.5],[877,1.0],[878,1.8],[879,1.2],[880,2.0],[881,1.4],[882,1.9],[883,1.2],[884,1.8],[885,1.5],[886,2.5],[887,1.6],[888,2.8],[889,2.0],[890,3.4],[891,2.2],[892,3.0],[893,2.5],[894,3.2],[895,2.8],[896,4.0],[897,3.2],[898,4.5],[899,3.0],[900,4.8],[901,3.5],[902,4.2],[903,3.0],[904,4.5],[905,3.2],[906,4.3],[907,4.85],[908,3.0],[909,4.6],[910,2.8],[911,4.0],[912,3.0],[913,4.2],[914,2.5],[915,3.5],[916,2.8],[917,3.2],[918,3.0]];

const BLUE = '#0072BD', ORANGE = '#D95319', AX = '#262626', GRIDC = '#E3E3E3';
const FONT = 'Liberation Serif';
const labelMap = {};
monthTicks.forEach((d, i) => labelMap[d] = monthLabels[i]);

const grids = [
  {left: 64, right: 1, top: 16, height: 223},
  {left: 64, right: 1, top: 285, height: 225},
  {left: 64, right: 1, top: 556, height: 224}
].map(g => Object.assign({show: false, containLabel: false}, g));

const axLine = {show: true, onZero: false, lineStyle: {color: AX, width: 1}};
const xAxes = [], yAxes = [];
for (let i = 0; i < 3; i++) {
  xAxes.push({
    type: 'value', gridIndex: i, min: -24, max: 965, position: 'bottom',
    axisLine: axLine,
    axisTick: {show: true, inside: true, length: 9, customValues: monthTicks, lineStyle: {color: AX}},
    axisLabel: {show: true, customValues: monthTicks, margin: 12, fontFamily: FONT, fontWeight: 'bold', fontSize: 18, lineHeight: 17, color: '#111',
      formatter: v => labelMap[Math.round(v)] || ''},
    splitLine: {show: true, lineStyle: {color: GRIDC, width: 1}}
  });
  xAxes.push({
    type: 'value', gridIndex: i, min: -24, max: 965, position: 'top',
    axisLine: axLine,
    axisTick: {show: true, inside: true, length: 9, customValues: monthTicks, lineStyle: {color: AX}},
    axisLabel: {show: false}, splitLine: {show: false}
  });
}
const yDefs = [
  {min: -5, max: 30, ticks: tempTicks, name: 'Temperature, {sup|o}C', pad: 14},
  {min: 23, max: 33, ticks: salTicks, name: 'Salinity, psu', pad: 5},
  {min: 0, max: 5, ticks: fluTicks, name: 'Fluorescence, volts', pad: 7}
];
yDefs.forEach((d, i) => {
  yAxes.push({
    type: 'value', gridIndex: i, min: d.min, max: d.max, position: 'left',
    name: d.name, nameLocation: 'middle', nameGap: 36,
    nameTextStyle: {fontFamily: FONT, fontWeight: 'bold', fontSize: 20, color: '#111', padding: [0, d.pad, 0, 0],
      rich: {sup: {fontFamily: FONT, fontWeight: 'bold', fontSize: 12, color: '#111', verticalAlign: 'top', padding: [0, 0, 8, 0]}}},
    axisLine: axLine,
    axisTick: {show: true, inside: true, length: 9, customValues: d.ticks, lineStyle: {color: AX}},
    axisLabel: {show: true, customValues: d.ticks, margin: 8, fontFamily: FONT, fontWeight: 'bold', fontSize: 18, color: '#111'},
    splitLine: {show: true, lineStyle: {color: GRIDC, width: 1}}
  });
  yAxes.push({
    type: 'value', gridIndex: i, min: d.min, max: d.max, position: 'right',
    axisLine: axLine,
    axisTick: {show: true, inside: true, length: 9, customValues: d.ticks, lineStyle: {color: AX}},
    axisLabel: {show: false}, splitLine: {show: false}
  });
});

function line(data, color, gi) {
  return {type: 'line', data: data, xAxisIndex: gi * 2, yAxisIndex: gi * 2, showSymbol: false, symbol: 'none',
    connectNulls: false, lineStyle: {color: color, width: 1}, itemStyle: {color: color}, animation: false, silent: true, clip: true};
}

const chart = echarts.init(document.getElementById('c'), null, {renderer: 'canvas'});
chart.setOption({
  backgroundColor: '#fff',
  animation: false,
  grid: grids,
  xAxis: xAxes,
  yAxis: yAxes,
  series: [
    line(tempBlue, BLUE, 0), line(tempOrange, ORANGE, 0),
    line(salBlue, BLUE, 1), line(salOrange, ORANGE, 1),
    line(fluBlue, BLUE, 2), line(fluOrange, ORANGE, 2)
  ]
});
</script></body></html>
